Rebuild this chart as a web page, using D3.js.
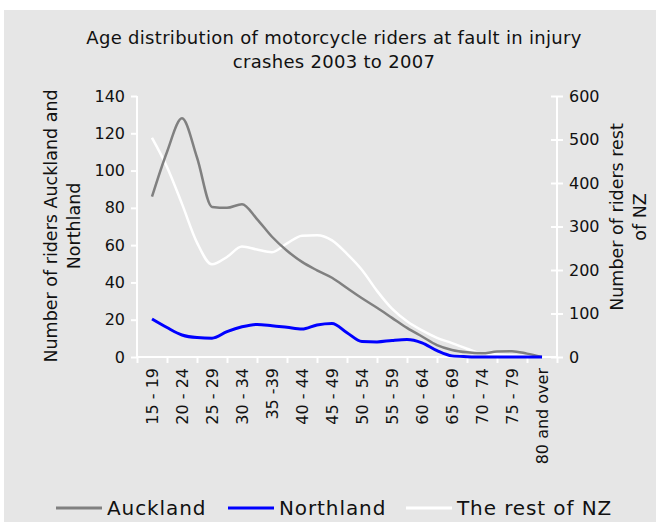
<!DOCTYPE html>
<html>
<head>
<meta charset="utf-8">
<script src="https://cdn.jsdelivr.net/npm/d3@7"></script>
<style>
  body { margin: 0; background: #fff; }
  text { font-family: "DejaVu Sans", Verdana, sans-serif; fill: #111; }
</style>
</head>
<body>
<div id="chart"></div>
<script>
// age groups on the x axis
var categories = ["15 - 19", "20 - 24", "25 - 29", "30 - 34", "35 -39", "40 - 44", "45 - 49",
  "50 - 54", "55 - 59", "60 - 64", "65 - 69", "70 - 74", "75 - 79", "80 and over"];

// values read at each group centre and half way between groups
var auckland = [86, 110, 128, 107, 80.5, 80, 82, 74, 64.5, 57, 51, 46.5, 42.5, 37, 31.5, 26.4,
  21, 15.6, 11, 6.4, 3.8, 2.5, 2, 2.9, 3.1, 1.8, 0];
var northland = [20.4, 15.8, 11.8, 10.4, 10.1, 13.6, 16.2, 17.5, 16.8, 15.9, 15, 17.2, 18, 13,
  8.3, 8.1, 8.9, 9.4, 7.6, 3.4, 0.6, 0.2, 0, 0, 0, 0, 0];
var restNZ = [504, 437, 352, 263, 213, 230, 254, 247, 241, 261, 279, 280, 268, 237, 200, 152,
  111, 82, 61, 44, 32, 19, 8, 5.5, 4, 2, 0];

var leftTicks = [0, 20, 40, 60, 80, 100, 120, 140];
var rightTicks = [0, 100, 200, 300, 400, 500, 600];

(function () {
  var width = 656, height = 522;
  var left = 137, right = 557, top = 96, bottom = 357;

  var svg = d3.select("#chart").append("svg").attr("width", width).attr("height", height);
  svg.append("rect").attr("x", 4).attr("y", 10).attr("width", width - 4).attr("height", height - 10)
    .attr("fill", "#e6e6e6");

  var x = d3.scaleLinear().domain([0, categories.length]).range([left, right]);
  var yL = d3.scaleLinear().domain([0, 140]).range([bottom, top]);
  var yR = d3.scaleLinear().domain([0, 600]).range([bottom, top]);

  // half-category steps, starting at the first group's centre
  function pos(i) { return 0.5 + i * 0.5; }

  // title
  var title = svg.append("text").attr("text-anchor", "middle").attr("font-size", 18)
    .attr("letter-spacing", 0.3);
  title.append("tspan").attr("x", 334).attr("y", 44).text("Age distribution of motorcycle riders at fault in injury");
  title.append("tspan").attr("x", 334).attr("y", 68).text("crashes 2003 to 2007");

  // left axis
  var ax = svg.append("g").attr("transform", "translate(" + left + ",0)")
    .call(d3.axisLeft(yL).tickValues(leftTicks).tickSize(6).tickPadding(6));
  ax.select(".domain").attr("stroke", "#fff").attr("stroke-width", 2).attr("d", "M0," + bottom + "V" + top);
  ax.selectAll(".tick line").attr("stroke", "#fff").attr("stroke-width", 2);
  ax.selectAll(".tick text").attr("font-size", 16).attr("font-family", "DejaVu Sans").attr("fill", "#111");

  // right axis
  var ar = svg.append("g").attr("transform", "translate(" + right + ",0)")
    .call(d3.axisRight(yR).tickValues(rightTicks).tickSize(6).tickPadding(6));
  ar.select(".domain").attr("stroke", "#fff").attr("stroke-width", 2).attr("d", "M0," + bottom + "V" + top);
  ar.selectAll(".tick line").attr("stroke", "#fff").attr("stroke-width", 2).attr("x1", -6);
  ar.selectAll(".tick text").attr("font-size", 16).attr("font-family", "DejaVu Sans").attr("fill", "#111");

  // x axis with ticks at group boundaries
  var bx = svg.append("g").attr("transform", "translate(0," + bottom + ")")
    .call(d3.axisBottom(x).tickValues(d3.range(categories.length + 1)).tickSize(6).tickFormat(""));
  bx.select(".domain").attr("stroke", "#fff").attr("stroke-width", 2).attr("d", "M" + left + ",0H" + right);
  bx.selectAll(".tick line").attr("stroke", "#fff").attr("stroke-width", 2);

  svg.append("g").selectAll("text").data(categories).join("text")
    .attr("font-size", 16)
    .attr("text-anchor", "end")
    .attr("dy", "0.35em")
    .attr("transform", function (d, i) { return "translate(" + x(i + 0.5) + "," + (bottom + 11) + ") rotate(-90)"; })
    .text(function (d) { return d; });

  // axis titles
  var lt = svg.append("text").attr("text-anchor", "middle").attr("font-size", 17.5)
    .attr("transform", "translate(57,226) rotate(-90)");
  lt.append("tspan").attr("x", 0).attr("y", 0).text("Number of riders Auckland and");
  lt.append("tspan").attr("x", 0).attr("y", 23).text("Northland");

  var rt = svg.append("text").attr("text-anchor", "middle").attr("font-size", 17.5)
    .attr("transform", "translate(623,217) rotate(-90)");
  rt.append("tspan").attr("x", 0).attr("y", 0).text("Number of riders rest");
  rt.append("tspan").attr("x", 0).attr("y", 23).text("of NZ");

  // lines
  function line(scale) {
    return d3.line().x(function (d, i) { return x(pos(i)); }).y(function (d) { return scale(d); })
      .curve(d3.curveMonotoneX);
  }
  svg.append("path").datum(restNZ).attr("d", line(yR)).attr("fill", "none")
    .attr("stroke", "#fff").attr("stroke-width", 2.5);
  svg.append("path").datum(auckland).attr("d", line(yL)).attr("fill", "none")
    .attr("stroke", "#808080").attr("stroke-width", 2.5);
  svg.append("path").datum(northland).attr("d", line(yL)).attr("fill", "none")
    .attr("stroke", "#0000ff").attr("stroke-width", 3);

  // legend
  var legend = [
    { name: "Auckland", color: "#808080", x: 56 },
    { name: "Northland", color: "#0000ff", x: 228 },
    { name: "The rest of NZ", color: "#fff", x: 406 }
  ];
  var lg = svg.append("g").selectAll("g").data(legend).join("g")
    .attr("transform", function (d) { return "translate(" + d.x + ",508)"; });
  lg.append("line").attr("x1", 0).attr("x2", 46).attr("stroke", function (d) { return d.color; })
    .attr("stroke-width", 3);
  lg.append("text").attr("x", 51).attr("dy", "0.36em").attr("font-size", 20)
    .attr("letter-spacing", 0.9).text(function (d) { return d.name; });
})();
</script>
</body>
</html>
